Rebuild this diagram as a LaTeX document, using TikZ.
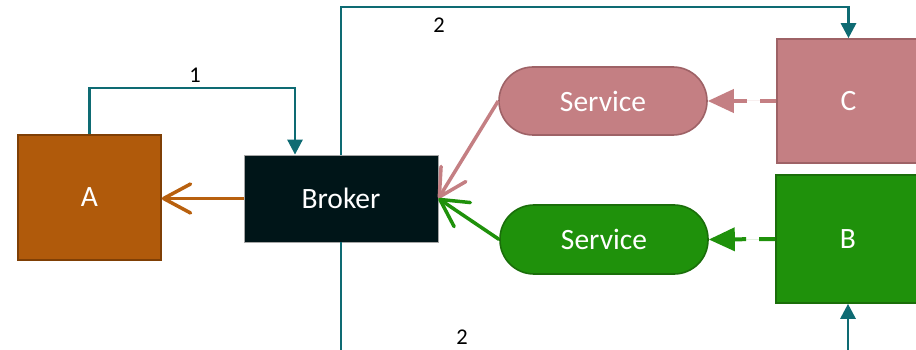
\documentclass[tikz,border=0pt]{standalone}
\usepackage{fontspec}
\setmainfont{Carlito}
\usetikzlibrary{arrows.meta}
\definecolor{ochre}{HTML}{B05A0B}
\definecolor{ochreline}{HTML}{7F3F05}
\definecolor{ochrearrow}{HTML}{B8600E}
\definecolor{petrol}{HTML}{0E6B73}
\definecolor{night}{HTML}{001518}
\definecolor{rose}{HTML}{C47F83}
\definecolor{roseline}{HTML}{9E6266}
\definecolor{leaf}{HTML}{1F910B}
\definecolor{leafline}{HTML}{1A6E0A}
\tikzset{
  boxtext/.style={text=white, font=\fontsize{29.5}{35}\selectfont, inner sep=0pt},
  block/.style={boxtext, rectangle, line width=1.6pt},
  pill/.style={boxtext, rectangle, rounded corners=34pt, line width=1.6pt,
    minimum width=208pt, minimum height=68pt},
  flow/.style={draw=petrol, line width=2.8pt, -{Triangle[length=15pt,width=15pt]}},
  reply/.style={line width=3.5pt, -{Straight Barb[length=27pt,width=29pt,round]}},
  feed/.style={line width=4pt, dash pattern=on 16pt off 13pt,
    -{Triangle[length=26pt,width=23pt]}},
  num/.style={font=\fontsize{22.5}{26}\selectfont, inner sep=0pt}
}
\begin{document}
\begin{tikzpicture}[x=1pt,y=-1pt]
\useasboundingbox (0,0) rectangle (916,350);

% boxes
\node[block, fill=ochre, draw=ochreline, minimum width=143pt, minimum height=125pt] (A) at (89.5,197.5) {A};
\node[block, fill=night, draw=gray!70, line width=0.8pt, minimum width=194pt, minimum height=87pt] (Broker) at (341,198.5) {Broker};
\node[block, fill=rose, draw=roseline, minimum width=143pt, minimum height=124pt] (C) at (848.5,101) {C};
\node[block, fill=leaf, draw=leafline, minimum width=144pt, minimum height=128pt] (B) at (848,239) {B};
\node[pill, fill=rose, draw=roseline] (SP) at (603,101) {Service};
\node[pill, fill=leaf, draw=leafline, minimum height=69pt] (SG) at (604,239.5) {Service};

% routing corners
\coordinate (k1) at (295,88);
\coordinate (k2) at (848.5,7);
\coordinate (k3) at (341,365);

% step 1: A to the broker
\draw[flow] (A.north) |- (k1) -- (Broker.north -| k1);
\node[num] (n1) at (195,75) {1};

% step 2: broker out to C and B
\draw[flow] (Broker.north) |- (k2) -- (C.north);
\node[num] (n2a) at (439,25) {2};
\draw[flow] (Broker.south) -- (k3) -| (B.south);
\node[num] (n2b) at (462,337) {2};

% replies
\draw[reply, draw=ochrearrow] (Broker.west) -- (Broker.west -| A.east);
\draw[reply, draw=rose] (SP.west) -- (Broker.east);
\draw[reply, draw=leaf] (SG.west) -- (Broker.east);

% feeds into the services
\draw[feed, draw=rose, fill=rose] (C.west) -- (SP.east);
\draw[feed, draw=leaf, fill=leaf] (B.west) -- (SG.east);
\end{tikzpicture}
\end{document}
